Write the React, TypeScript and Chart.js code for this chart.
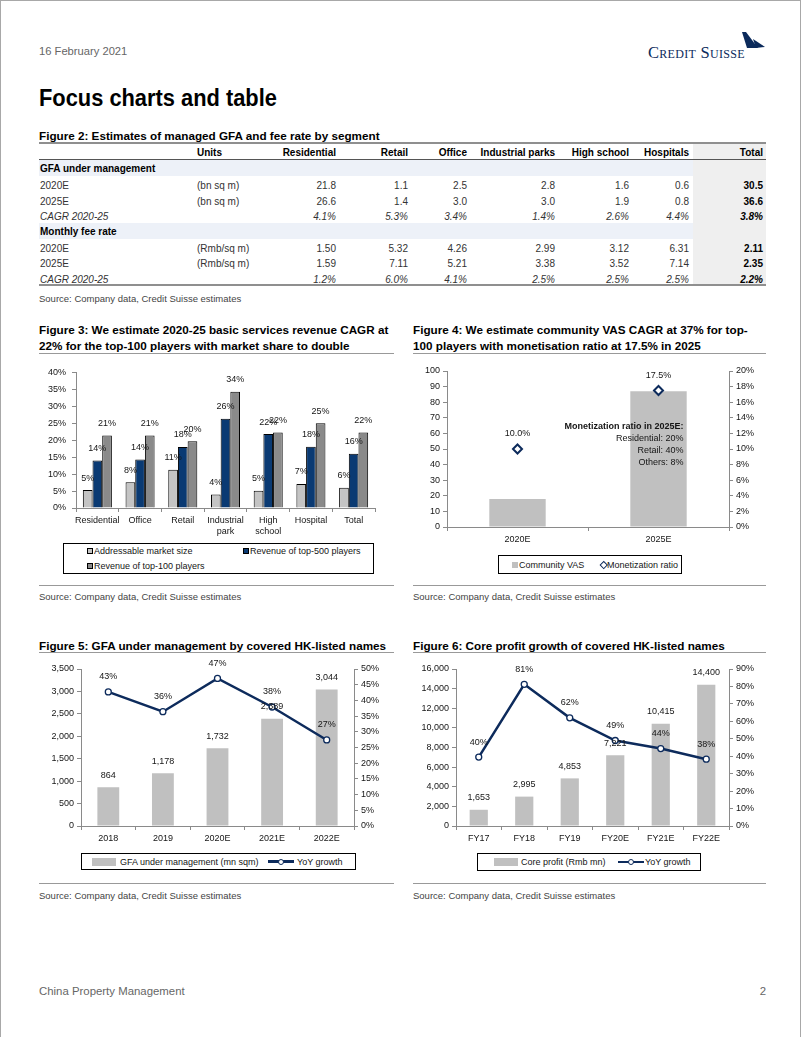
import React, { useEffect, useRef } from 'react';
import { Chart, registerables } from 'chart.js';
Chart.register(...registerables);

const FONT = '"Liberation Sans", Arial, Helvetica, sans-serif';
const CF = 9;
const INK = '#151515';
const GREYTXT = '#333';
const AXIS = '#8a8a8a';
const NAVY = '#0d2b5c';
const LIGHT_BAR = '#c0c0c0';

// ---------------- Figure 2 (table) ----------------
const tableColumns = ['Residential', 'Retail', 'Office', 'Industrial parks', 'High school', 'Hospitals', 'Total'];
const gfaUnits = '(bn sq m)';
const feeUnits = '(Rmb/sq m)';
const gfa2020 = ['21.8', '1.1', '2.5', '2.8', '1.6', '0.6', '30.5'];
const gfa2025 = ['26.6', '1.4', '3.0', '3.0', '1.9', '0.8', '36.6'];
const gfaCagr = ['4.1%', '5.3%', '3.4%', '1.4%', '2.6%', '4.4%', '3.8%'];
const fee2020 = ['1.50', '5.32', '4.26', '2.99', '3.12', '6.31', '2.11'];
const fee2025 = ['1.59', '7.11', '5.21', '3.38', '3.52', '7.14', '2.35'];
const feeCagr = ['1.2%', '6.0%', '4.1%', '2.5%', '2.5%', '2.5%', '2.2%'];

// ---------------- Figure 3 ----------------
const fig3Categories = [['Residential'], ['Office'], ['Retail'], ['Industrial', 'park'], ['High', 'school'], ['Hospital'], ['Total']];
const fig3SeriesNames = ['Addressable market size', 'Revenue of top-500 players', 'Revenue of top-100 players'];
const fig3Addressable = [5.3, 7.6, 11.3, 4.0, 5.1, 7.1, 6.0];
const fig3Top500 = [14.0, 14.3, 18.0, 26.3, 21.8, 18.1, 16.0];
const fig3Top100 = [21.4, 21.4, 19.7, 34.3, 22.3, 25.0, 22.3];
const fig3Colors = ['#c4c4c4', '#0a3a73', '#8a8a8a'];

// ---------------- Figure 4 ----------------
const fig4Categories = ['2020E', '2025E'];
const fig4SeriesNames = ['Community VAS', 'Monetization ratio'];
const fig4CommunityVAS = [18, 87];
const fig4Monetization = [10.0, 17.5];
const fig4NoteTitle = 'Monetization ratio in 2025E:';
const fig4NoteLines = ['Residential: 20%', 'Retail: 40%', 'Others: 8%'];

// ---------------- Figure 5 ----------------
const fig5Categories = ['2018', '2019', '2020E', '2021E', '2022E'];
const fig5SeriesNames = ['GFA under management (mn sqm)', 'YoY growth'];
const fig5GFA = [864, 1178, 1732, 2389, 3044];
const fig5Growth = [42.7, 36.4, 47.0, 37.9, 27.4];

// ---------------- Figure 6 ----------------
const fig6Categories = ['FY17', 'FY18', 'FY19', 'FY20E', 'FY21E', 'FY22E'];
const fig6SeriesNames = ['Core profit (Rmb mn)', 'YoY growth'];
const fig6Profit = [1653, 2995, 4853, 7221, 10415, 14400];
const fig6Growth = [39.5, 81.2, 62.0, 49.0, 44.4, 38.3];

const pct0 = (v: number) => Math.round(v) + '%';
const pct1 = (v: number) => v.toFixed(1) + '%';
const thousands = (v: number) => Math.round(v).toLocaleString('en-US');

const valueLabels = {
  id: 'valueLabels',
  afterDatasetsDraw(chart: any) {
    const ctx = chart.ctx;
    chart.data.datasets.forEach((ds: any, i: number) => {
      if (!ds.labelFormat) return;
      const meta = chart.getDatasetMeta(i);
      ctx.save();
      ctx.font = `${CF}px ${FONT}`;
      ctx.fillStyle = INK;
      ctx.textAlign = 'center';
      ctx.textBaseline = 'middle';
      meta.data.forEach((el: any, j: number) => {
        ctx.fillText(ds.labelFormat(ds.data[j]), el.x, el.y - ds.labelOffset);
      });
      ctx.restore();
    });
  },
};

const fig4Note = {
  id: 'fig4Note',
  afterDatasetsDraw(chart: any) {
    const { ctx, scales } = chart;
    const x = scales.x.getPixelForValue(1) + 25;
    const y0 = scales.y.getPixelForValue(64.2);
    ctx.save();
    ctx.fillStyle = INK;
    ctx.textAlign = 'right';
    ctx.textBaseline = 'middle';
    ctx.font = `bold ${CF}px ${FONT}`;
    ctx.fillText(fig4NoteTitle, x, y0);
    ctx.font = `${CF}px ${FONT}`;
    fig4NoteLines.forEach((t, i) => ctx.fillText(t, x, y0 + 11.8 * (i + 1)));
    ctx.restore();
  },
};

function yAxis(position: string, min: number, max: number, step: number, fmt: (v: number) => string, width: number, pad = 3) {
  return {
    position,
    min,
    max,
    ticks: { stepSize: step, callback: (v: any) => fmt(Number(v)), color: INK, font: { family: FONT, size: CF }, padding: pad, autoSkip: false },
    grid: { drawOnChartArea: false, drawTicks: true, tickLength: 4, color: AXIS },
    border: { color: AXIS, width: 1 },
    afterFit: (s: any) => { s.width = width; },
  };
}

function xAxis(height: number) {
  return {
    ticks: { color: INK, font: { family: FONT, size: CF, lineHeight: 1.2 }, padding: 3, autoSkip: false, maxRotation: 0 },
    grid: { drawOnChartArea: false, drawTicks: true, tickLength: 4, color: AXIS, offset: true },
    border: { color: AXIS, width: 1 },
    afterFit: (s: any) => { s.height = height; },
  };
}

function baseOptions(padTop: number, padRight: number, scales: any) {
  return {
    animation: false,
    responsive: false,
    maintainAspectRatio: false,
    layout: { padding: { top: padTop, right: padRight, left: 0, bottom: 0 } },
    plugins: { legend: { display: false }, tooltip: { enabled: false } },
    scales,
  };
}

function ChartCanvas({ left, top, width, height, build }: any) {
  const ref = useRef<HTMLCanvasElement | null>(null);
  useEffect(() => {
    const chart = new Chart(ref.current as any, build());
    return () => chart.destroy();
  }, []);
  return <canvas ref={ref} width={width} height={height} style={{ position: 'absolute', left, top, width, height }} />;
}

const buildFig3 = () => ({
  type: 'bar',
  data: {
    labels: fig3Categories,
    datasets: [fig3Addressable, fig3Top500, fig3Top100].map((d, i) => ({
      label: fig3SeriesNames[i],
      data: d,
      backgroundColor: fig3Colors[i],
      borderColor: '#000',
      borderWidth: 1,
      categoryPercentage: 0.68,
      barPercentage: 1,
      labelFormat: pct0,
      labelOffset: 12,
    })),
  },
  options: baseOptions(10, 6, {
    x: xAxis(33),
    y: yAxis('left', 0, 40, 5, (v) => v + '%', 45, 6),
  }),
  plugins: [valueLabels],
});

const buildFig4 = () => ({
  type: 'bar',
  data: {
    labels: fig4Categories,
    datasets: [
      {
        type: 'line',
        label: fig4SeriesNames[1],
        data: fig4Monetization,
        yAxisID: 'y1',
        showLine: false,
        pointStyle: 'rectRot',
        pointRadius: 4.5,
        pointBackgroundColor: '#fff',
        pointBorderColor: NAVY,
        pointBorderWidth: 2,
        order: 0,
        labelFormat: pct1,
        labelOffset: 15,
      },
      {
        label: fig4SeriesNames[0],
        data: fig4CommunityVAS,
        yAxisID: 'y',
        backgroundColor: LIGHT_BAR,
        categoryPercentage: 1,
        barPercentage: 0.4,
        order: 1,
      },
    ],
  },
  options: baseOptions(10, 0, {
    x: xAxis(24),
    y: yAxis('left', 0, 100, 10, (v) => String(v), 41),
    y1: yAxis('right', 0, 20, 2, (v) => v + '%', 47),
  }),
  plugins: [valueLabels, fig4Note],
});

function buildComboFig(labels: string[], names: string[], bars: number[], growth: number[], leftMax: number, leftStep: number, rightMax: number, rightStep: number) {
  return () => ({
    type: 'bar',
    data: {
      labels,
      datasets: [
        {
          type: 'line',
          label: names[1],
          data: growth,
          yAxisID: 'y1',
          borderColor: NAVY,
          borderWidth: 2.5,
          pointStyle: 'circle',
          pointRadius: 3,
          pointBackgroundColor: '#fff',
          pointBorderColor: NAVY,
          pointBorderWidth: 1.3,
          tension: 0,
          order: 0,
          labelFormat: pct0,
          labelOffset: 15,
        },
        {
          label: names[0],
          data: bars,
          yAxisID: 'y',
          backgroundColor: LIGHT_BAR,
          categoryPercentage: 1,
          barPercentage: 0.4,
          order: 1,
          labelFormat: thousands,
          labelOffset: 12,
        },
      ],
    },
    options: baseOptions(10, 0, {
      x: xAxis(23),
      y: yAxis('left', 0, leftMax, leftStep, thousands, 50),
      y1: yAxis('right', 0, rightMax, rightStep, (v) => v + '%', 47),
    }),
    plugins: [valueLabels],
  });
}

const buildFig5 = buildComboFig(fig5Categories, fig5SeriesNames, fig5GFA, fig5Growth, 3500, 500, 50, 5);
const buildFig6 = buildComboFig(fig6Categories, fig6SeriesNames, fig6Profit, fig6Growth, 16000, 2000, 90, 10);

// ---------------- layout helpers ----------------
function Txt({ x, cy, children, size = 10, weight = 400, color = INK, align = 'left', italic = false, lh, family, style }: any) {
  const h = lh || Math.round(size * 1.3);
  const base: any = {
    position: 'absolute', top: cy - h / 2, height: h, lineHeight: h + 'px', fontSize: size, fontWeight: weight,
    color, whiteSpace: 'nowrap', fontStyle: italic ? 'italic' : 'normal', fontFamily: family || FONT,
  };
  if (align === 'right') return <div style={{ ...base, left: x - 300, width: 300, textAlign: 'right', ...style }}>{children}</div>;
  return <div style={{ ...base, left: x, ...style }}>{children}</div>;
}

const CTxt = (p: any) => <Txt size={CF} {...p} />;

function HLine({ x1, x2, y, color = '#999', w = 1 }: any) {
  return <div style={{ position: 'absolute', left: x1, top: y - w / 2, width: x2 - x1, height: w, background: color }} />;
}

function Box({ x, y, w, h, bg }: any) {
  return <div style={{ position: 'absolute', left: x, top: y, width: w, height: h, background: bg }} />;
}

function Swatch({ x, cy, color, border = true, size = 6 }: any) {
  return <div style={{ position: 'absolute', left: x, top: cy - size / 2, width: size, height: size, boxSizing: 'border-box', background: color, border: border ? '1px solid #000' : 'none' }} />;
}

function LineSwatch({ x, cy, w = 26 }: any) {
  return (
    <div style={{ position: 'absolute', left: x, top: cy - 1.25, width: w, height: 2.5, background: NAVY }}>
      <div style={{ position: 'absolute', left: w / 2 - 3, top: -1.75, width: 6, height: 6, boxSizing: 'border-box', borderRadius: 3, border: `1.3px solid ${NAVY}`, background: '#fff' }} />
    </div>
  );
}

function LegendFrame({ x, y, w, h, children }: any) {
  return <div style={{ position: 'absolute', left: x, top: y, width: w, height: h, boxSizing: 'border-box', border: '1px solid #000' }}>{children}</div>;
}

const TITLE = 11.7;
const SRC = 9.5;
const SOURCE_TEXT = 'Source: Company data, Credit Suisse estimates';

function Source({ x, cy }: any) {
  return <Txt x={x} cy={cy} size={SRC} color="#444">{SOURCE_TEXT}</Txt>;
}

export default function App() {
  const colRight = [335, 407, 466, 554, 628, 688, 762];
  const tableRows: any[] = [
    { band: true, label: 'GFA under management', cy: 167.5 },
    { label: '2020E', units: gfaUnits, values: gfa2020, cy: 184 },
    { label: '2025E', units: gfaUnits, values: gfa2025, cy: 200 },
    { label: 'CAGR 2020-25', values: gfaCagr, cy: 215.5, italic: true },
    { band: true, label: 'Monthly fee rate', cy: 230.5 },
    { label: '2020E', units: feeUnits, values: fee2020, cy: 247 },
    { label: '2025E', units: feeUnits, values: fee2025, cy: 262 },
    { label: 'CAGR 2020-25', values: feeCagr, cy: 278, italic: true },
  ];

  return (
    <div style={{ position: 'absolute', left: 0, top: 0, width: 801, height: 1037, boxSizing: 'border-box', border: '1px solid #a8a8a8', borderBottom: 'none', background: '#fff', overflow: 'hidden', fontFamily: FONT }}>
      {/* header */}
      <Txt x={38} cy={50} size={11.2} color="#666">16 February 2021</Txt>
      <div style={{ position: 'absolute', left: 647, top: 42, fontFamily: '"Liberation Serif", "DejaVu Serif", serif', fontVariant: 'small-caps', fontSize: 16.5, lineHeight: '20px', color: '#0b2a5b', letterSpacing: 0.3, whiteSpace: 'nowrap' }}>Credit Suisse</div>
      <svg style={{ position: 'absolute', left: 738, top: 28, width: 28, height: 22 }} viewBox="738 28 28 22">
        <path d="M741,31 L745,31 L757,47 L746,47 Z" fill="#0b2a5b" />
        <path d="M752,38 L764,46 L755,47 Z" fill="#0b2a5b" />
      </svg>
      <Txt x={38} cy={97} size={24} weight={700} color="#000" lh={30} style={{ transform: 'scaleX(0.91)', transformOrigin: 'left center' }}>Focus charts and table</Txt>

      {/* Figure 2 table */}
      <Txt x={38} cy={134} size={TITLE} weight={700} color="#000">Figure 2: Estimates of managed GFA and fee rate by segment</Txt>
      <Box x={692} y={143} w={73} h={141} bg="#efefef" />
      <Box x={38} y={159} w={654} h={16} bg="#edf1f8" />
      <Box x={38} y={222} w={654} h={16} bg="#edf1f8" />
      <HLine x1={38} x2={765} y={142} color="#8f8f8f" w={1.5} />
      <HLine x1={38} x2={765} y={158.5} color="#555" w={1} />
      <HLine x1={38} x2={765} y={284} color="#8f8f8f" w={1.5} />
      <Txt x={196} cy={151.5} size={10} weight={700} color="#000">Units</Txt>
      {tableColumns.map((c, i) => (
        <Txt key={c} x={colRight[i]} cy={151.5} size={10} weight={700} color="#000" align="right">{c}</Txt>
      ))}
      {tableRows.map((r, ri) => (
        <React.Fragment key={ri}>
          <Txt x={39} cy={r.cy} size={10} weight={r.band ? 700 : 400} color={r.band ? '#000' : GREYTXT} italic={r.italic}>{r.label}</Txt>
          {r.units && <Txt x={196} cy={r.cy} size={10} color={GREYTXT}>{r.units}</Txt>}
          {r.values && r.values.map((v: string, ci: number) => (
            <Txt key={ci} x={colRight[ci]} cy={r.cy} size={10} align="right" italic={r.italic}
              weight={ci === 6 ? 700 : 400} color={ci === 6 ? '#000' : GREYTXT}>{v}</Txt>
          ))}
        </React.Fragment>
      ))}
      <Source x={38} cy={298} />

      {/* Figure 3 */}
      <Txt x={38} cy={328} size={TITLE} weight={700} color="#000">Figure 3: We estimate 2020-25 basic services revenue CAGR at</Txt>
      <Txt x={38} cy={344} size={TITLE} weight={700} color="#000">22% for the top-100 players with market share to double</Txt>
      <HLine x1={38} x2={393} y={352} color="#999" />
      <ChartCanvas left={30} top={360} width={350} height={180} build={buildFig3} />
      <LegendFrame x={62} y={542} w={311} h={31}>
        <Swatch x={23} cy={7} color={fig3Colors[0]} />
        <CTxt x={30} cy={7}>{fig3SeriesNames[0]}</CTxt>
        <Swatch x={179} cy={7} color={fig3Colors[1]} />
        <CTxt x={186} cy={7}>{fig3SeriesNames[1]}</CTxt>
        <Swatch x={23} cy={22} color={fig3Colors[2]} />
        <CTxt x={30} cy={22}>{fig3SeriesNames[2]}</CTxt>
      </LegendFrame>
      <HLine x1={38} x2={393} y={584} color="#999" />
      <Source x={38} cy={596} />

      {/* Figure 4 */}
      <Txt x={412} cy={328} size={TITLE} weight={700} color="#000">Figure 4: We estimate community VAS CAGR at 37% for top-</Txt>
      <Txt x={412} cy={344} size={TITLE} weight={700} color="#000">100 players with monetisation ratio at 17.5% in 2025</Txt>
      <HLine x1={412} x2={765} y={352} color="#999" />
      <ChartCanvas left={405} top={360} width={370} height={190} build={buildFig4} />
      <LegendFrame x={497} y={554} w={184} h={19}>
        <Swatch x={13} cy={8.5} color={LIGHT_BAR} border={false} />
        <CTxt x={20} cy={8.5}>{fig4SeriesNames[0]}</CTxt>
        <div style={{ position: 'absolute', left: 101.5, top: 5.5, width: 5.5, height: 5.5, boxSizing: 'border-box', border: `1.6px solid ${NAVY}`, background: '#fff', transform: 'rotate(45deg)' }} />
        <CTxt x={108} cy={8.5}>{fig4SeriesNames[1]}</CTxt>
      </LegendFrame>
      <HLine x1={412} x2={765} y={584} color="#999" />
      <Source x={412} cy={596} />

      {/* Figure 5 */}
      <Txt x={38} cy={644} size={TITLE} weight={700} color="#000">Figure 5: GFA under management by covered HK-listed names</Txt>
      <HLine x1={38} x2={393} y={651} color="#999" />
      <ChartCanvas left={30} top={658} width={370} height={190} build={buildFig5} />
      <LegendFrame x={80} y={852} w={275} h={17}>
        <Box x={10} y={4} w={24} h={8} bg={LIGHT_BAR} />
        <CTxt x={38} cy={7.5}>{fig5SeriesNames[0]}</CTxt>
        <LineSwatch x={186} cy={7.5} />
        <CTxt x={215} cy={7.5}>{fig5SeriesNames[1]}</CTxt>
      </LegendFrame>
      <HLine x1={38} x2={393} y={882} color="#999" />
      <Source x={38} cy={895} />

      {/* Figure 6 */}
      <Txt x={412} cy={644} size={TITLE} weight={700} color="#000">Figure 6: Core profit growth of covered HK-listed names</Txt>
      <HLine x1={412} x2={765} y={651} color="#999" />
      <ChartCanvas left={405} top={658} width={370} height={190} build={buildFig6} />
      <LegendFrame x={476} y={852} w={224} h={18}>
        <Box x={16} y={4} w={24} h={8} bg={LIGHT_BAR} />
        <CTxt x={43} cy={8}>{fig6SeriesNames[0]}</CTxt>
        <LineSwatch x={140} cy={8} />
        <CTxt x={167} cy={8}>{fig6SeriesNames[1]}</CTxt>
      </LegendFrame>
      <HLine x1={412} x2={765} y={882} color="#999" />
      <Source x={412} cy={895} />

      {/* footer */}
      <Txt x={38} cy={990} size={11.4} color="#666">China Property Management</Txt>
      <Txt x={765} cy={990} size={11.4} color="#666" align="right">2</Txt>
    </div>
  );
}
